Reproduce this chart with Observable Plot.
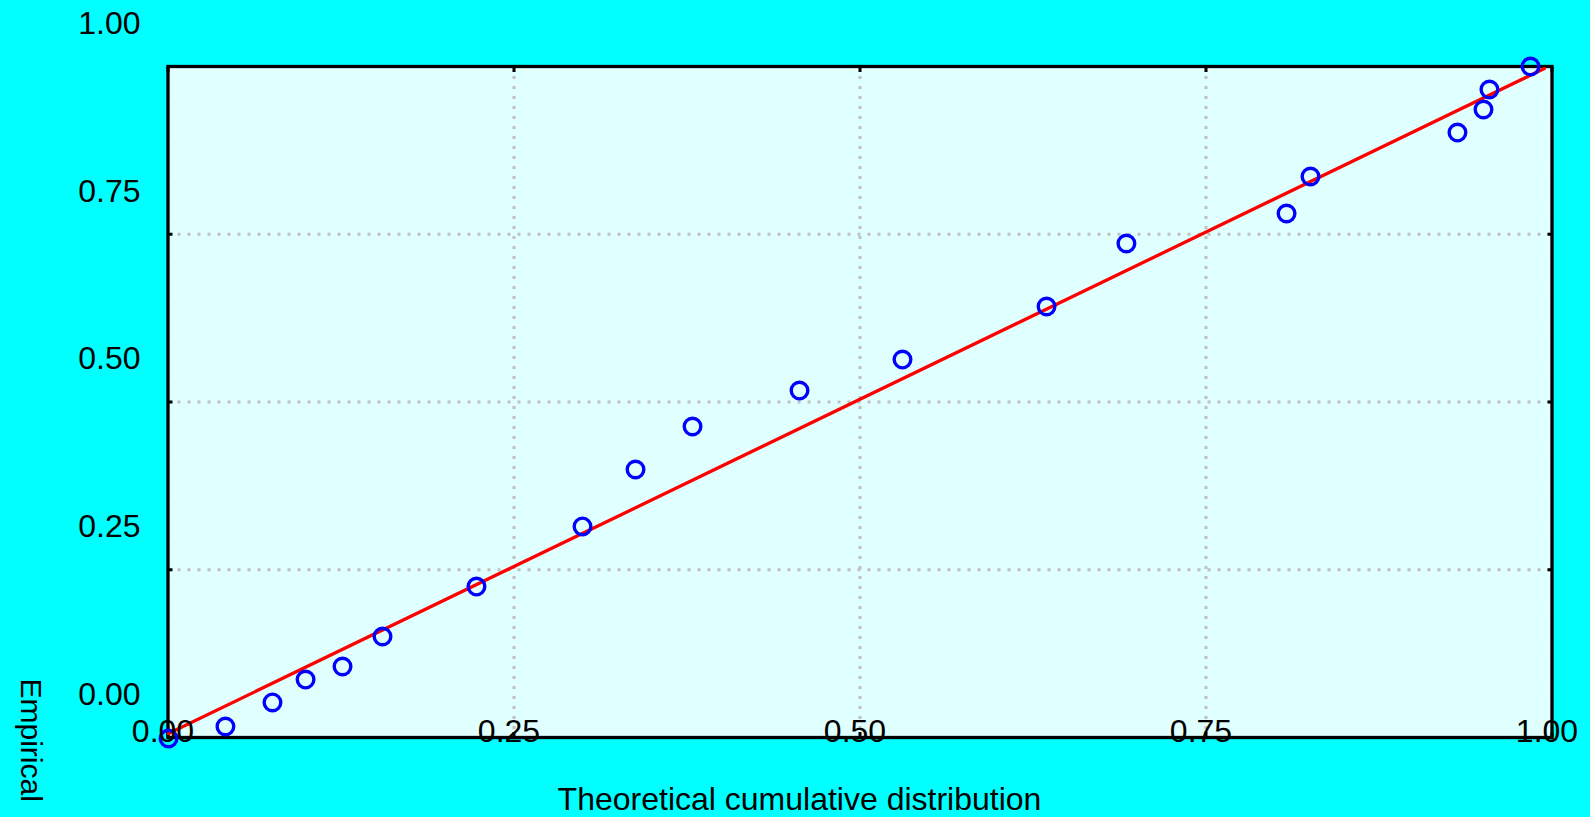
<!DOCTYPE html>
<html><head><meta charset="utf-8">
<script src="https://cdn.jsdelivr.net/npm/d3@7"></script>
<script src="https://cdn.jsdelivr.net/npm/@observablehq/plot@0.6"></script>
<style>html,body{margin:0;padding:0;background:#00FFFF;overflow:hidden}</style>
</head><body><div id="chart"></div>
<script>
const theoretical = [0.0004, 0.0415, 0.0755, 0.0994, 0.1261, 0.1550, 0.2229, 0.2995, 0.3378, 0.3790,
                     0.4563, 0.5307, 0.6348, 0.6925, 0.8082, 0.8255, 0.9317, 0.9505, 0.9548, 0.9845];
const empirical   = [-0.0015, 0.0164, 0.0522, 0.0864, 0.1058, 0.1505, 0.2250, 0.3145, 0.3994, 0.4635,
                     0.5171, 0.5633, 0.6423, 0.7362, 0.7809, 0.8361, 0.9016, 0.9359, 0.9657, 1.0000];
const fitX = [0.0004, 0.9945];
const fitY = [0.006, 0.997];
const xTicks = [0, 0.25, 0.5, 0.75, 1];
const yTicks = [0, 0.25, 0.5, 0.75, 1];
const xTitle = "Theoretical cumulative distribution";
const yTitle = "Empirical";

const points = theoretical.map((t, i) => ({t, e: empirical[i]}));
const fit = fitX.map((x, i) => ({x, y: fitY[i]}));
const fmt = d3.format(".2f");
const none = () => "";

const chart = Plot.plot({
  width: 1590, height: 817,
  marginLeft: 167.5, marginRight: 38.5, marginTop: 66, marginBottom: 80,
  x: {domain: [0, 1]}, y: {domain: [0, 1]},
  style: {background: "#00FFFF", fontFamily: "'Liberation Sans', Arial, sans-serif", fontSize: "32px", color: "black"},
  marks: [
    Plot.frame({fill: "#E0FFFF", stroke: null}),
    Plot.gridX({ticks: xTicks, stroke: "#c0c0c0", strokeOpacity: 1, strokeWidth: 3, strokeDasharray: "3,7"}),
    Plot.gridY({ticks: yTicks, stroke: "#c0c0c0", strokeOpacity: 1, strokeWidth: 3, strokeDasharray: "3,7"}),
    Plot.axisX({anchor: "top", ticks: xTicks, tickSize: -5, tickFormat: none, strokeWidth: 3, label: null}),
    Plot.axisX({anchor: "bottom", ticks: xTicks, tickSize: -5, tickFormat: none, strokeWidth: 3, label: null}),
    Plot.axisY({anchor: "left", ticks: yTicks, tickSize: -5, tickFormat: none, strokeWidth: 3, label: null}),
    Plot.axisY({anchor: "right", ticks: yTicks, tickSize: -5, tickFormat: none, strokeWidth: 3, label: null}),
    Plot.frame({stroke: "black", strokeWidth: 3.3}),
    Plot.line(fit, {x: "x", y: "y", stroke: "red", strokeWidth: 3.3}),
    Plot.dot(points, {x: "t", y: "e", r: 8.3, stroke: "blue", strokeWidth: 3.4, fill: "none"}),
    Plot.axisY({anchor: "left", ticks: yTicks, tickFormat: fmt, tickSize: 0, tickPadding: 27.5, dy: -43,
                fontSize: 32, lineAnchor: "middle", label: null}),
    Plot.axisX({anchor: "bottom", ticks: xTicks, tickFormat: fmt, tickSize: 0, tickPadding: 0, dy: -6, dx: -5,
                fontSize: 32, lineAnchor: "middle", label: null}),
    Plot.text([xTitle], {text: d => d, frameAnchor: "bottom", dx: -60.5, dy: 62, fontSize: 32, lineAnchor: "middle", fill: "black"}),
    Plot.text([yTitle], {text: d => d, frameAnchor: "bottom-left", rotate: 90, textAnchor: "start",
                         dx: -137.5, dy: -59, fontSize: 30, lineAnchor: "middle", fill: "black"})
  ]
});
document.getElementById("chart").append(chart);
</script>
</body></html>
